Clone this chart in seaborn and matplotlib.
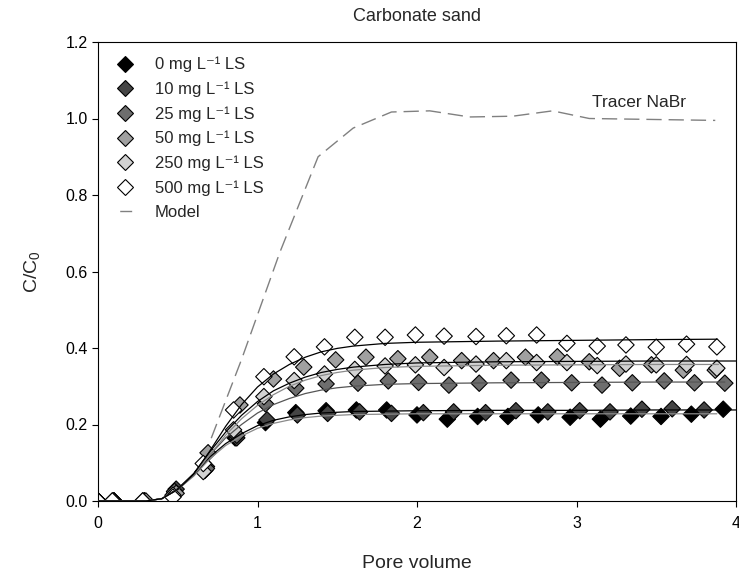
import matplotlib
matplotlib.use("Agg")
import matplotlib.pyplot as plt
from matplotlib.lines import Line2D
import seaborn as sns
import pandas as pd

# ---------------- data ----------------
series_names = ["0 mg L⁻¹ LS", "10 mg L⁻¹ LS", "25 mg L⁻¹ LS",
                "50 mg L⁻¹ LS", "250 mg L⁻¹ LS", "500 mg L⁻¹ LS"]
series_colors = ["#000000", "#454545", "#6e6e6e", "#a0a0a0", "#d2d2d2", "#ffffff"]

x0 = [0, 0.10, 0.29, 0.48, 0.67, 0.86, 1.05, 1.24, 1.43, 1.62, 1.81, 2.00, 2.19, 2.38, 2.57, 2.76, 2.96, 3.15, 3.34, 3.53, 3.72, 3.92]
y0 = [0, 0, 0, 0.02, 0.08, 0.165, 0.205, 0.231, 0.236, 0.238, 0.238, 0.225, 0.214, 0.221, 0.221, 0.225, 0.219, 0.214, 0.222, 0.221, 0.227, 0.240]

x10 = [0, 0.10, 0.29, 0.49, 0.68, 0.87, 1.06, 1.25, 1.44, 1.64, 1.84, 2.04, 2.23, 2.43, 2.62, 2.82, 3.02, 3.21, 3.41, 3.60, 3.80]
y10 = [0, 0, 0, 0.031, 0.09, 0.165, 0.212, 0.225, 0.229, 0.233, 0.229, 0.231, 0.233, 0.231, 0.236, 0.233, 0.236, 0.233, 0.240, 0.241, 0.238]

x25 = [0, 0.10, 0.29, 0.48, 0.68, 0.87, 1.05, 1.24, 1.43, 1.63, 1.82, 2.01, 2.20, 2.39, 2.59, 2.78, 2.97, 3.16, 3.35, 3.55, 3.74, 3.93]
y25 = [0, 0, 0, 0.025, 0.085, 0.172, 0.254, 0.295, 0.306, 0.308, 0.314, 0.310, 0.303, 0.308, 0.316, 0.316, 0.309, 0.303, 0.309, 0.314, 0.309, 0.308]

x50 = [0, 0.10, 0.30, 0.49, 0.69, 0.89, 1.10, 1.29, 1.49, 1.68, 1.88, 2.08, 2.28, 2.48, 2.68, 2.88, 3.08, 3.27, 3.47, 3.67, 3.87]
y50 = [0, 0, 0, 0.02, 0.126, 0.251, 0.319, 0.350, 0.369, 0.376, 0.372, 0.376, 0.367, 0.367, 0.376, 0.377, 0.364, 0.347, 0.356, 0.342, 0.342]

x250 = [0, 0.09, 0.28, 0.47, 0.66, 0.85, 1.04, 1.23, 1.42, 1.61, 1.80, 1.99, 2.17, 2.37, 2.56, 2.75, 2.94, 3.13, 3.31, 3.50, 3.69, 3.88]
y250 = [0, 0, 0, 0.015, 0.077, 0.186, 0.273, 0.315, 0.332, 0.344, 0.353, 0.356, 0.349, 0.358, 0.367, 0.362, 0.362, 0.354, 0.358, 0.356, 0.357, 0.347]

x500 = [0, 0.09, 0.28, 0.47, 0.66, 0.85, 1.04, 1.23, 1.42, 1.61, 1.80, 1.99, 2.17, 2.37, 2.56, 2.75, 2.94, 3.13, 3.31, 3.50, 3.69, 3.88]
y500 = [0, 0, 0, 0.01, 0.098, 0.238, 0.325, 0.377, 0.403, 0.428, 0.428, 0.434, 0.431, 0.430, 0.432, 0.434, 0.412, 0.405, 0.408, 0.402, 0.410, 0.403]

# model (fitted) curves
model_x = [0, 0.3, 0.4, 0.5, 0.6, 0.7, 0.8, 0.9, 1.0, 1.1, 1.2, 1.3, 1.4, 1.5, 1.6, 1.8, 2.0, 2.5, 3.0, 3.5]
model_end_x = [3.88, 4.0, 3.93, 4.0, 3.89, 3.88]
m0 = [0, 0, 0.006, 0.030, 0.065, 0.110, 0.145, 0.170, 0.190, 0.203, 0.212, 0.218, 0.222, 0.224, 0.226, 0.227, 0.228, 0.228, 0.228, 0.228, 0.228]
m10 = [0, 0, 0.006, 0.031, 0.068, 0.115, 0.150, 0.176, 0.197, 0.211, 0.220, 0.226, 0.230, 0.232, 0.234, 0.235, 0.236, 0.237, 0.237, 0.238, 0.238]
m25 = [0, 0, 0.006, 0.031, 0.070, 0.120, 0.165, 0.200, 0.230, 0.252, 0.268, 0.281, 0.290, 0.296, 0.300, 0.305, 0.307, 0.309, 0.310, 0.311, 0.311]
m50 = [0, 0, 0.006, 0.032, 0.072, 0.128, 0.180, 0.224, 0.260, 0.288, 0.308, 0.324, 0.336, 0.344, 0.350, 0.357, 0.361, 0.364, 0.365, 0.366, 0.366]
m250 = [0, 0, 0.006, 0.030, 0.068, 0.120, 0.172, 0.215, 0.250, 0.278, 0.300, 0.316, 0.328, 0.336, 0.342, 0.349, 0.352, 0.355, 0.356, 0.357, 0.357]
m500 = [0, 0, 0.006, 0.030, 0.070, 0.130, 0.195, 0.252, 0.298, 0.332, 0.357, 0.376, 0.390, 0.399, 0.405, 0.412, 0.415, 0.418, 0.420, 0.422, 0.423]
model_colors = ["#8a8a8a", "#000000", "#555555", "#000000", "#8a8a8a", "#000000"]

# tracer NaBr model
tracer_x = [0.66, 0.90, 1.14, 1.38, 1.60, 1.84, 2.08, 2.33, 2.60, 2.85, 3.08, 3.87]
tracer_y = [0.11, 0.37, 0.65, 0.90, 0.975, 1.017, 1.020, 1.004, 1.006, 1.020, 1.000, 0.995]

xticks = [0, 1, 2, 3, 4]
yticks = [0.0, 0.2, 0.4, 0.6, 0.8, 1.0, 1.2]

# ---------------- style ----------------
sns.set_theme(style="ticks")
plt.rcParams["font.family"] = ["Liberation Sans", "DejaVu Sans"]
plt.rcParams["mathtext.default"] = "regular"

fig = plt.figure(figsize=(7.39, 5.76), dpi=100)
ax = fig.add_axes([98 / 739, 1 - 501 / 576, (736 - 98) / 739, (501 - 42) / 576])

xs = [x0, x10, x25, x50, x250, x500]
ys = [y0, y10, y25, y50, y250, y500]
ms = [m0, m10, m25, m50, m250, m500]

# tracer
sns.lineplot(x=tracer_x, y=tracer_y, ax=ax, color="#808080", lw=1.0,
             linestyle=(0, (11, 5)), sort=False, estimator=None, zorder=1)

# observed data
rows = []
for name, xx, yy in zip(series_names, xs, ys):
    for a, b in zip(xx, yy):
        rows.append({"pv": a, "c": b, "series": name})
df = pd.DataFrame(rows)
palette = dict(zip(series_names, series_colors))
sns.scatterplot(data=df, x="pv", y="c", hue="series", palette=palette, marker="D",
                s=70, edgecolor="black", linewidth=0.8, legend=False, ax=ax, zorder=2)

# model curves
for m, ex, col in zip(ms, model_end_x, model_colors):
    sns.lineplot(x=model_x + [ex], y=m, ax=ax, color=col, lw=0.9,
                 sort=False, estimator=None, zorder=3)

ax.text(3.39, 1.043, "Tracer NaBr", ha="center", va="center", fontsize=12.5)

ax.set_xlim(0, 4)
ax.set_ylim(0, 1.2)
ax.set_xticks(xticks)
ax.set_yticks(yticks)
ax.set_xticklabels([str(t) for t in xticks])
ax.set_yticklabels([f"{t:.1f}" for t in yticks])
ax.tick_params(axis="both", labelsize=11.5, direction="out", length=4, width=0.8,
               color="black", labelcolor="black", top=False, right=False)
ax.tick_params(axis="x", pad=7)
for sp in ax.spines.values():
    sp.set_visible(True)
    sp.set_color("black")
    sp.set_linewidth(0.8)

ax.set_xlabel("Pore volume", fontsize=14, labelpad=17)
ax.set_ylabel("C/C$_0$", fontsize=14, labelpad=17)
ax.set_title("Carbonate sand", fontsize=13, pad=15)

handles = [Line2D([], [], marker="D", ls="none", markerfacecolor=c, markeredgecolor="black",
                  markeredgewidth=0.8, markersize=8.4) for c in series_colors]
handles.append(Line2D([], [], color="#808080", lw=1.0, linestyle=(31.6, (8.6, 30))))
labels = series_names + ["Model"]
ax.legend(handles, labels, loc="upper left", bbox_to_anchor=(0.008, 0.982), frameon=False,
          fontsize=12, handlelength=1.8, handletextpad=0.9, labelspacing=0.55,
          borderaxespad=0.0)

fig.savefig("out.png", dpi=100)
